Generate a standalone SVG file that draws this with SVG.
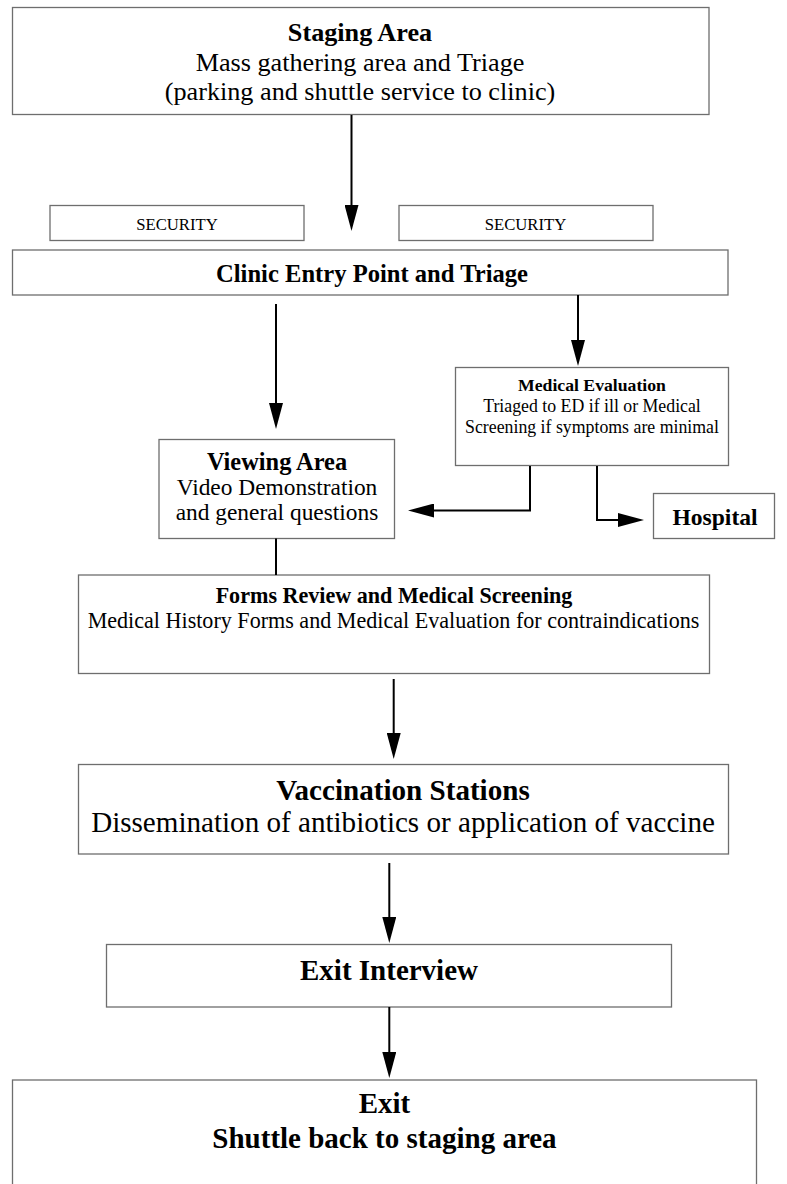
<svg xmlns="http://www.w3.org/2000/svg" width="787" height="1184" viewBox="0 0 787 1184">
  <style>
    .box { fill: #ffffff; stroke: #6e6e6e; stroke-width: 1.3; }
    .t { font-family: "Liberation Serif", "Times New Roman", serif; fill: #000000; text-anchor: middle; }
    .b { font-weight: bold; }
    .conn { fill: none; stroke: #000000; stroke-width: 2; }
  </style>
  <defs>
    <marker id="arrow" markerUnits="userSpaceOnUse" markerWidth="26" markerHeight="14" refX="16" refY="7" orient="auto">
      <path d="M0,0 L26,7 L0,14 z" fill="#000000"/>
    </marker>
  </defs>
  <rect width="787" height="1184" fill="#ffffff"/>

  <g id="staging-area">
    <rect class="box" x="12.5" y="7.5" width="696.5" height="107"/>
    <text class="t b" x="360" y="40.5" font-size="26.2">Staging Area</text>
    <text class="t" x="360" y="71" font-size="26.2">Mass gathering area and Triage</text>
    <text class="t" x="360" y="100" font-size="26.2">(parking and shuttle service to clinic)</text>
  </g>

  <g id="security-left">
    <rect class="box" x="50" y="205.5" width="254" height="35"/>
    <text class="t" x="177" y="230" font-size="16.7">SECURITY</text>
  </g>

  <g id="security-right">
    <rect class="box" x="399" y="205.5" width="254" height="35"/>
    <text class="t" x="525.5" y="230" font-size="16.7">SECURITY</text>
  </g>

  <g id="clinic-entry">
    <rect class="box" x="12.5" y="250" width="715.5" height="45"/>
    <text class="t b" x="372" y="281.5" font-size="24.6">Clinic Entry Point and Triage</text>
  </g>

  <g id="viewing-area">
    <rect class="box" x="159" y="439.5" width="235.5" height="99"/>
    <text class="t b" x="277" y="470" font-size="24.4">Viewing Area</text>
    <text class="t" x="277" y="494.5" font-size="23.4">Video Demonstration</text>
    <text class="t" x="277" y="520" font-size="23.4">and general questions</text>
  </g>

  <g id="medical-evaluation">
    <rect class="box" x="455.5" y="367.5" width="273" height="98"/>
    <text class="t b" x="592" y="390.7" font-size="17.7">Medical Evaluation</text>
    <text class="t" x="592" y="411.7" font-size="17.8">Triaged to ED if ill or Medical</text>
    <text class="t" x="592" y="432.7" font-size="17.8">Screening if symptoms are minimal</text>
  </g>

  <g id="hospital">
    <rect class="box" x="653.5" y="493.5" width="121" height="45"/>
    <text class="t b" x="715" y="525" font-size="23.6">Hospital</text>
  </g>

  <g id="forms-review">
    <rect class="box" x="78.5" y="575" width="631" height="98.5"/>
    <text class="t b" x="394" y="603.3" font-size="22.1">Forms Review and Medical Screening</text>
    <text class="t" x="393.5" y="628.3" font-size="22.1">Medical History Forms and Medical Evaluation for contraindications</text>
  </g>

  <g id="vaccination-stations">
    <rect class="box" x="78.5" y="764.5" width="650" height="89.5"/>
    <text class="t b" x="403" y="800" font-size="29.1">Vaccination Stations</text>
    <text class="t" x="403" y="832.3" font-size="29.1">Dissemination of antibiotics or application of vaccine</text>
  </g>

  <g id="exit-interview">
    <rect class="box" x="106.5" y="944.5" width="565" height="62.5"/>
    <text class="t b" x="389" y="980" font-size="29">Exit Interview</text>
  </g>

  <g id="exit">
    <rect class="box" x="12.5" y="1080" width="744" height="130"/>
    <text class="t b" x="384.5" y="1113.3" font-size="29">Exit</text>
    <text class="t b" x="384.5" y="1148.3" font-size="29">Shuttle back to staging area</text>
  </g>

  <g id="connectors">
    <path class="conn" d="M351.5,115 V221" marker-end="url(#arrow)"/>
    <path class="conn" d="M578,295 V356" marker-end="url(#arrow)"/>
    <path class="conn" d="M276,304 V419" marker-end="url(#arrow)"/>
    <path class="conn" d="M530,466 V510.5 H418" marker-end="url(#arrow)"/>
    <path class="conn" d="M597,466 V520 H634" marker-end="url(#arrow)"/>
    <path class="conn" d="M276,538.5 V575"/>
    <path class="conn" d="M393.7,679 V749" marker-end="url(#arrow)"/>
    <path class="conn" d="M389.3,863 V933" marker-end="url(#arrow)"/>
    <path class="conn" d="M389.3,1007 V1068" marker-end="url(#arrow)"/>
  </g>
</svg>
